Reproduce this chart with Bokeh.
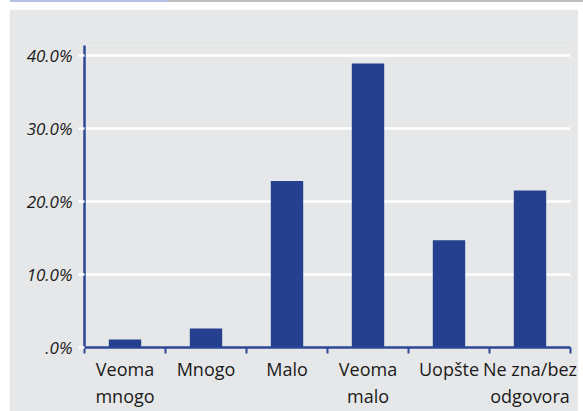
from bokeh.plotting import figure
from bokeh.models import LinearAxis, FixedTicker, Range1d, Div, ColumnDataSource
from bokeh.layouts import column
from bokeh.embed import file_html
from bokeh.resources import INLINE

# Survey answers and their shares (percent)
categories = ["Veoma\nmnogo", "Mnogo", "Malo", "Veoma\nmalo", "Uopšte", "Ne zna/bez\nodgovora"]
shares = [1.1, 2.6, 22.8, 38.9, 14.7, 21.5]

# Value axis ticks and their labels
y_ticks = [0, 10, 20, 30, 40]
y_tick_labels = [".0%", "10.0%", "20.0%", "30.0%", "40.0%"]

BLUE = "#24408e"
AXIS_BLUE = "#2b4796"
PANEL = "#e6e7e8"
TEXT = "#1a1a1a"
FONT = "Open Sans"

# bars sit in the middle of unit-wide category slots
xpos = [i + 0.5 for i in range(len(categories))]
source = ColumnDataSource(dict(x=xpos, top=shares))

p = figure(
    width=569, height=402,
    x_range=Range1d(0, len(categories)), y_range=Range1d(0, 41.35),
    output_backend="svg", toolbar_location=None,
    x_axis_location=None, y_axis_location="left",
    min_border_left=75, min_border_right=8, min_border_top=36, min_border_bottom=59,
    background_fill_color=PANEL, border_fill_color=PANEL,
    outline_line_color=None,
)

# horizontal white gridlines
p.ygrid.ticker = FixedTicker(ticks=y_ticks)
p.ygrid.grid_line_color = "white"
p.ygrid.grid_line_width = 2.5
p.xgrid.visible = False

p.vbar(x="x", top="top", width=0.4, bottom=0, source=source,
       fill_color=BLUE, line_color=None)

# value axis
ya = p.yaxis[0]
ya.ticker = FixedTicker(ticks=y_ticks)
ya.major_label_overrides = {t: l for t, l in zip(y_ticks, y_tick_labels)}
ya.axis_line_color = AXIS_BLUE
ya.axis_line_width = 2.5
ya.major_tick_line_color = "white"
ya.major_tick_line_width = 2.5
ya.major_tick_out = 6
ya.major_tick_in = 0
ya.minor_tick_line_color = None
ya.major_label_text_font = FONT
ya.major_label_text_font_style = "italic"
ya.major_label_text_font_size = "17px"
ya.major_label_text_color = TEXT
ya.major_label_standoff = 6

# category axis: boundary ticks on the baseline
tick_axis = LinearAxis(
    ticker=FixedTicker(ticks=list(range(len(categories) + 1))),
    major_label_overrides={i: "" for i in range(len(categories) + 1)},
    major_label_text_font_size="0px", major_label_standoff=0,
    axis_line_color=AXIS_BLUE, axis_line_width=2.5,
    major_tick_line_color=AXIS_BLUE, major_tick_line_width=2,
    major_tick_out=6, major_tick_in=0,
    minor_tick_line_color=None,
)
p.add_layout(tick_axis, "below")

# category names centred under each bar
label_axis = LinearAxis(
    ticker=FixedTicker(ticks=xpos),
    major_label_overrides={x: c for x, c in zip(xpos, categories)},
    axis_line_color=None, major_tick_line_color=None,
    major_tick_out=0, major_tick_in=0, minor_tick_line_color=None,
    major_label_text_font=FONT, major_label_text_font_size="18px",
    major_label_text_color=TEXT, major_label_standoff=3,
    major_label_text_line_height=1.15,
)
p.add_layout(label_axis, "below")

p.margin = (7, 5, 0, 9)

top_rule = Div(
    text="", width=583, height=2, margin=(0, 0, 0, 0),
    styles={"background": "linear-gradient(to right, #ffffff 0px, #ffffff 10px, "
                          "#b5c1e4 10px, #b5c1e4 168px, #bdbdbd 168px)"},
)

layout = column(top_rule, p, spacing=0)

open("out.html", "w").write(file_html(layout, INLINE))
